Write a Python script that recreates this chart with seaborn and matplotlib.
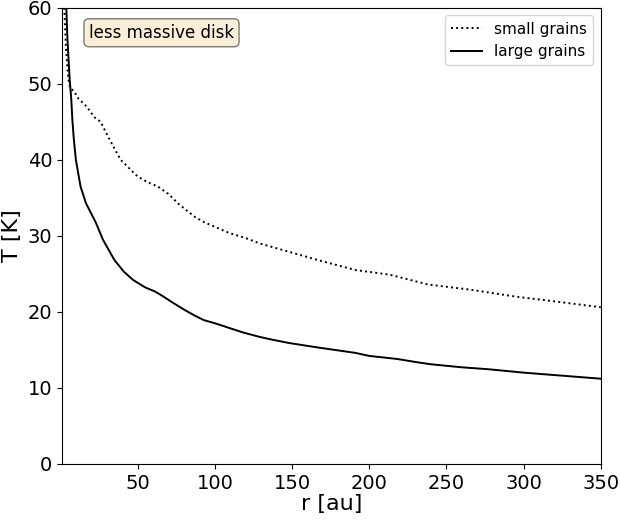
import matplotlib
matplotlib.use("Agg")
import matplotlib.pyplot as plt
import seaborn as sns

# radius [au] and temperature [K]
r_small = [2.5, 3.5, 4.5, 5.5, 7, 9, 11, 13, 17, 22, 26, 32, 39, 50, 57, 63, 70, 77,
           87, 93, 109, 120, 129, 148, 167, 191, 213, 238, 266, 295, 327, 350]
T_small = [60, 55, 52, 50, 49.3, 49, 48.2, 47.8, 47, 45.6, 45, 42.6, 40, 37.8, 37, 36.5,
           35.5, 34.1, 32.5, 31.8, 30.4, 29.7, 29.0, 27.9, 26.8, 25.5, 24.9, 23.6, 22.9,
           22.0, 21.2, 20.6]

r_large = [3.8, 4.5, 6, 7, 7.7, 8.7, 10, 13, 16.5, 19, 23, 27.5, 35, 41, 47, 55, 61, 66,
           72, 80, 87, 93, 100, 109, 118, 129, 138, 148, 167, 191, 200, 218, 230, 240,
           260, 277, 300, 325, 350]
T_large = [60, 56, 50.5, 48, 45.3, 42.6, 40, 36.5, 34.3, 33.3, 31.7, 29.5, 26.8, 25.3,
           24.2, 23.2, 22.7, 22.1, 21.3, 20.3, 19.5, 18.9, 18.5, 17.9, 17.3, 16.7, 16.3,
           15.9, 15.3, 14.6, 14.2, 13.8, 13.4, 13.1, 12.7, 12.45, 12.0, 11.6, 11.2]

fig = plt.figure(figsize=(6.2, 5.2), dpi=100)
ax = fig.add_axes([0.1, 0.108, 0.869, 0.877])

sns.lineplot(x=r_small, y=T_small, ax=ax, color="k", linestyle=":", lw=1.4,
             label="small grains")
sns.lineplot(x=r_large, y=T_large, ax=ax, color="k", linestyle="-", lw=1.4,
             label="large grains")

ax.set_xlim(1, 350)
ax.set_ylim(0, 60)
ax.set_xticks([50, 100, 150, 200, 250, 300, 350])
ax.set_xlabel("r [au]", fontsize=16, labelpad=1)
ax.set_ylabel("T [K]", fontsize=16)
ax.tick_params(labelsize=14)

ax.text(0.05, 0.965, "less massive disk", transform=ax.transAxes, fontsize=12,
        va="top", bbox=dict(boxstyle="round", facecolor="wheat", alpha=0.5))
ax.legend(loc="upper right", fontsize=11)

fig.savefig("out.png", dpi=100)
